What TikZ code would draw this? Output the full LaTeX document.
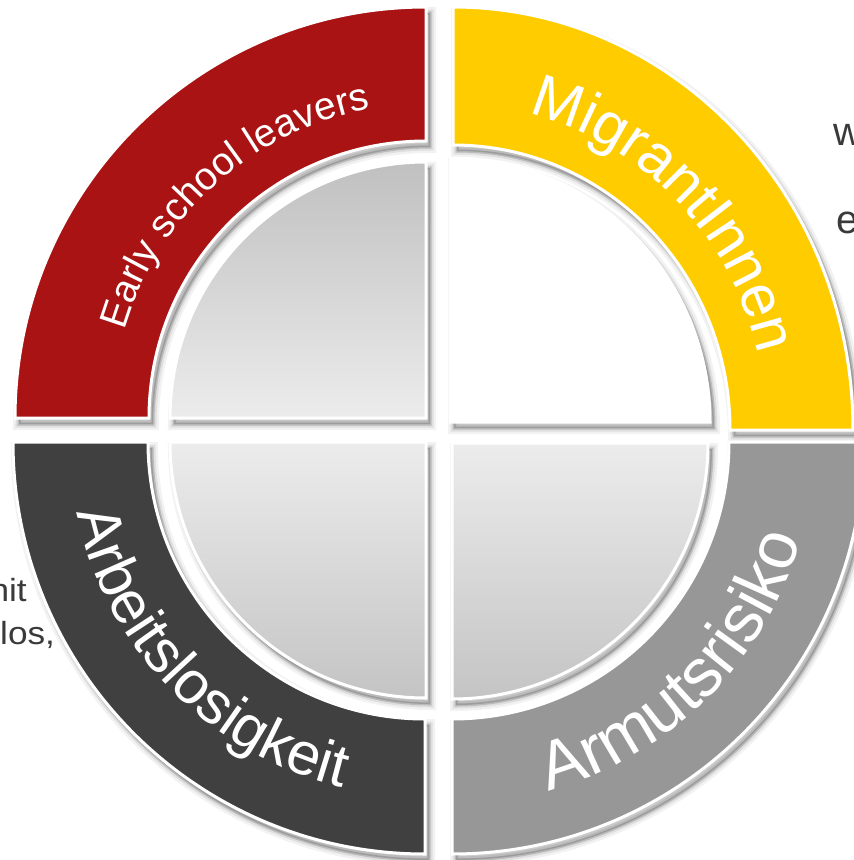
\documentclass[tikz,border=0pt]{standalone}
\usepackage{fontspec}
\setmainfont{Liberation Sans}
\usetikzlibrary{decorations.text}
\definecolor{cred}{HTML}{A91313}
\definecolor{cyel}{HTML}{FFCC00}
\definecolor{cdark}{HTML}{404040}
\definecolor{cgray}{HTML}{979797}
\definecolor{gtop}{HTML}{C0C0C0}
\definecolor{gmid}{HTML}{ECECEC}
\definecolor{gbot}{HTML}{C4C4C4}
\definecolor{txtgray}{HTML}{3A3A3A}
\newcommand\segp[6]{(#1:#5 and #6) arc[start angle=#1,end angle=#2,x radius=#5,y radius=#6] -- (#2:#3 and #4) arc[start angle=#2,end angle=#1,x radius=#3,y radius=#4] -- cycle}
\newcommand\quarp[4]{(0,0) -- (#1:#3 and #4) arc[start angle=#1,end angle=#2,x radius=#3,y radius=#4] -- cycle}
\newcommand\softshadow[3]{%
 \begin{scope}[shift={(#1+4,#2+6)}]
  \draw[black,line width=12,opacity=.05] #3;
  \draw[black,line width=7,opacity=.08] #3;
  \filldraw[black,line width=3,opacity=.16] #3;
 \end{scope}}
\newcommand\lblred{\fontsize{39}{46}\selectfont\color{white}}
\newcommand\lblyel{\fontsize{60}{68}\selectfont\color{white}}
\newcommand\lbldark{\fontsize{60}{68}\selectfont\color{white}}
\newcommand\lblgray{\fontsize{68}{76}\selectfont\color{white}}
\tikzset{
 segborder/.style={draw=white,line width=3},
 bgtext/.style={inner sep=0,text=txtgray}
}
\begin{document}
\begin{tikzpicture}[x=1pt,y=-1pt]
\clip (0,0) rectangle (854,860);
\fill[white] (0,0) rectangle (854,860);
% background text fragments
\node[bgtext,anchor=base east,font=\fontsize{32}{36}\selectfont,xscale=1.1] (t1) at (27,601) {nit};
\node[bgtext,anchor=base west,font=\fontsize{32}{36}\selectfont,xscale=1.1] (t2) at (0,644) {los,};
\node[bgtext,anchor=base west,font=\fontsize{40}{44}\selectfont] (t3) at (833,145) {w};
\node[bgtext,anchor=base west,font=\fontsize{40}{44}\selectfont] (t4) at (836,233) {e};
% shadows
\softshadow{426}{418}{\segp{180}{270}{277}{277}{411}{411}}
\softshadow{453}{430}{\segp{270}{360}{277}{285}{400}{423}}
\softshadow{425}{442}{\segp{90}{180}{277}{277}{412}{412}}
\softshadow{452}{442}{\segp{0}{90}{277}{277}{412}{412}}
\softshadow{426}{418}{\quarp{180}{270}{256}{256}}
\softshadow{450}{422}{\quarp{270}{360}{260}{264}}
\softshadow{426}{442}{\quarp{90}{180}{256}{256}}
\softshadow{452}{443}{\quarp{0}{90}{256}{256}}
% top left
\begin{scope}[shift={(426,418)}]
 \fill[cred,segborder] \segp{180}{270}{277}{277}{411}{411};
 \shadedraw[top color=gtop,bottom color=gmid,segborder] \quarp{180}{270}{256}{256};
 \path[decorate,decoration={text along path,text align=center,text={|\lblred|Early school leavers}}] (183:314) arc[start angle=183,end angle=273,radius=314];
\end{scope}
% top right
\begin{scope}[shift={(453,430)}]
 \fill[cyel,segborder] \segp{270}{360}{277}{285}{400}{423};
 \path[decorate,decoration={text along path,text align=center,text={|\lblyel|MigrantInnen}}] (270:314 and 326) arc[start angle=270,end angle=360,x radius=314,y radius=326];
\end{scope}
\begin{scope}[shift={(450,422)}]
 \fill[white,segborder] \quarp{270}{360}{260}{264};
\end{scope}
% bottom left
\begin{scope}[shift={(425,442)}]
 \fill[cdark,segborder] \segp{90}{180}{277}{277}{412}{412};
 \path[decorate,decoration={text along path,text align=center,text={|\lbldark|Arbeitslosigkeit}}] (181:355) arc[start angle=181,end angle=91,radius=355];
\end{scope}
\begin{scope}[shift={(426,442)}]
 \shadedraw[top color=gmid,bottom color=gbot,segborder] \quarp{90}{180}{256}{256};
\end{scope}
% bottom right
\begin{scope}[shift={(452,442)}]
 \fill[cgray,segborder] \segp{0}{90}{277}{277}{412}{412};
 \path[decorate,decoration={text along path,text align=center,text={|\lblgray|Armutsrisiko}}] (90:362) arc[start angle=90,end angle=0,radius=362];
\end{scope}
\begin{scope}[shift={(452,443)}]
 \shadedraw[top color=gmid,bottom color=gbot,segborder] \quarp{0}{90}{256}{256};
\end{scope}
\end{tikzpicture}
\end{document}
